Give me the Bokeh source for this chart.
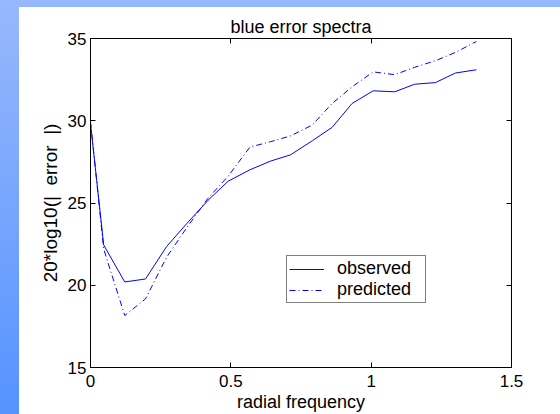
from bokeh.plotting import figure
from bokeh.models import LinearAxis, FixedTicker, Legend, LegendItem, Range1d
from bokeh.embed import file_html
from bokeh.resources import INLINE

# data
freq = [0.0, 0.047, 0.122, 0.196, 0.271, 0.343, 0.419, 0.490, 0.568, 0.642,
        0.713, 0.790, 0.861, 0.932, 1.007, 1.084, 1.155, 1.229, 1.300, 1.375]
observed = [29.85, 22.45, 20.20, 20.38, 22.35, 23.75, 25.17, 26.32, 27.02, 27.55,
            27.93, 28.78, 29.60, 31.05, 31.82, 31.76, 32.22, 32.32, 32.90, 33.10]
predicted = [29.95, 22.20, 18.16, 19.17, 21.70, 23.50, 25.30, 26.62, 28.40, 28.73,
             29.08, 29.74, 31.05, 32.06, 32.97, 32.80, 33.25, 33.65, 34.15, 34.82]
x_ticks = [0, 0.5, 1, 1.5]
x_tick_labels = ["0", "0.5", "1", "1.5"]
y_ticks = [15, 20, 25, 30, 35]
series_labels = ["observed", "predicted"]

FONT = "Liberation Sans"

p = figure(width=560, height=414, output_backend="svg", toolbar_location=None,
           x_range=Range1d(0, 1.5), y_range=Range1d(15, 35),
           min_border_left=90, min_border_right=49, min_border_top=38, min_border_bottom=45)
p.styles = {
    "background": "linear-gradient(#ffffff, #ffffff) 19px 7px / 100% 100% no-repeat, "
                  "linear-gradient(180deg, #98b8fc 0%, #5593ff 100%)",
}
p.border_fill_color = None
p.background_fill_color = "white"
p.outline_line_color = "black"
p.grid.visible = False

p.title.text = "blue error spectra"
p.title.align = "center"
p.title.text_font = FONT
p.title.text_font_size = "18px"
p.title.text_font_style = "normal"
p.title.text_color = "black"
p.title.standoff = 4

def style_axis(ax):
    ax.axis_line_color = "black"
    ax.major_tick_line_color = "black"
    ax.major_tick_in = 5
    ax.major_tick_out = 0
    ax.minor_tick_line_color = None
    ax.major_label_text_font = FONT
    ax.major_label_text_color = "black"
    ax.major_label_text_font_size = "17px"
    ax.axis_label_text_font = FONT
    ax.axis_label_text_font_size = "18px"
    ax.axis_label_text_font_style = "normal"
    ax.axis_label_text_color = "black"

xax = p.xaxis[0]
xax.ticker = FixedTicker(ticks=x_ticks)
xax.major_label_overrides = {t: l for t, l in zip(x_ticks, x_tick_labels)}
xax.axis_label = "radial frequency"
style_axis(xax)
xax.major_label_standoff = 7
xax.axis_label_standoff = 2

yax = p.yaxis[0]
yax.ticker = FixedTicker(ticks=y_ticks)
yax.axis_label = "20*log10(|\u00a0\u00a0error\u00a0\u00a0|)"
style_axis(yax)
yax.axis_label_text_font_size = "19px"
yax.major_label_standoff = 4
yax.axis_label_standoff = 4

top = LinearAxis(ticker=FixedTicker(ticks=x_ticks))
style_axis(top)
top.major_label_overrides = {t: "" for t in x_ticks}
top.major_label_standoff = 0
p.add_layout(top, "above")
right = LinearAxis(ticker=FixedTicker(ticks=y_ticks))
style_axis(right)
right.major_label_overrides = {t: "" for t in y_ticks}
right.major_label_standoff = 0
p.add_layout(right, "right")

r1 = p.line(freq, observed, line_color="blue", line_width=1)
r2 = p.line(freq, predicted, line_color="blue", line_width=1, line_dash="6 3 1 3")

legend = Legend(items=[LegendItem(label=series_labels[0], renderers=[r1]),
                       LegendItem(label=series_labels[1], renderers=[r2])],
                location=(196, 64), border_line_color="black", border_line_width=1,
                padding=2, spacing=0, margin=0, glyph_width=35, glyph_height=18,
                label_height=18, label_standoff=13, label_width=86,
                label_text_font=FONT, label_text_font_size="18px", label_text_color="black",
                background_fill_color="white", background_fill_alpha=1)
p.add_layout(legend)

open("out.html", "w").write(file_html(p, INLINE))
